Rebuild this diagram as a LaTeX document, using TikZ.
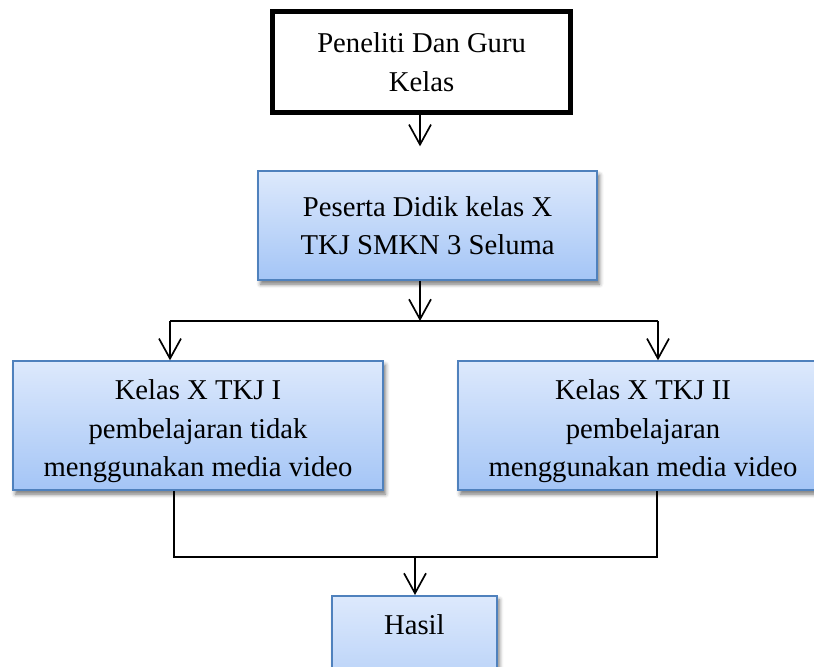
\documentclass[tikz,border=0pt]{standalone}
\usepackage{fontspec}
\setmainfont{Liberation Serif}
\usetikzlibrary{arrows.meta,shadows.blur}
\definecolor{boxtop}{RGB}{221,233,252}
\definecolor{boxbottom}{RGB}{164,197,246}
\definecolor{boxline}{RGB}{79,129,189}

\begin{document}
\begin{tikzpicture}[
	every node/.style={font=\fontsize{20.4}{27.4}\selectfont, align=center},
	blackbox/.style={draw=black, line width=3.5pt, inner sep=0pt},
	bluebox/.style={draw=boxline, line width=1.1pt, top color=boxtop, bottom color=boxbottom, inner sep=0pt,
		blur shadow={shadow xshift=0.06cm, shadow yshift=-0.1cm, shadow blur radius=0.1cm, shadow opacity=55}},
	link/.style={line width=1.2pt},
	arr/.style={link, -{Straight Barb[length=0.5cm, width=0.55cm]}}]
			%%%%% START %%%%%
			
			\path[use as bounding box, clip] (0, 0) rectangle (20.35, 16.65);
			
			\node[blackbox, minimum width=7.45cm, minimum height=2.525cm] (guru) at (10.54, 15.1) {Peneliti Dan Guru\\Kelas};
			\node[bluebox, minimum width=8.475cm, minimum height=2.725cm] (peserta) at (10.69, 11.01) {Peserta Didik kelas X\\TKJ SMKN 3 Seluma};
			
			\node[bluebox, minimum width=9.25cm, minimum height=3.225cm] (kelasA) at (4.95, 6.01) {\rule{0pt}{0.78cm}Kelas X TKJ I\\pembelajaran tidak\\menggunakan media video};
			\node[bluebox, minimum width=9.25cm, minimum height=3.225cm] (kelasB) at (16.075, 6.01) {\rule{0pt}{0.78cm}Kelas X TKJ II\\pembelajaran\\menggunakan media video};
			
			\node[bluebox, anchor=north, minimum width=4.125cm, inner ysep=0.47cm, text depth=2cm] (hasil) at (10.36, 1.775) {Hasil};
			
			\coordinate (split) at (10.5, 8.625);
			\coordinate (bl) at (4.25, 8.625);
			\coordinate (br) at (16.45, 8.625);
			\coordinate (jl) at (4.35, 2.725);
			\coordinate (jr) at (16.425, 2.725);
			\coordinate (join) at (10.375, 2.725);
			
			\draw[arr, shorten >=0.6cm] (split |- guru.south) -- (split |- peserta.north);
			\draw[arr] (split |- peserta.south) -- (split);
			
			\draw[link] (bl) -- (br);
			\draw[arr] (bl) -- (bl |- kelasA.north);
			\draw[arr] (br) -- (br |- kelasB.north);
			
			\draw[link] (jl |- kelasA.south) -- (jl) -- (jr) -- (jr |- kelasB.south);
			\draw[arr] (join) -- (hasil.north -| join);
			
			%%%%% END %%%%%
\end{tikzpicture}
\end{document}
